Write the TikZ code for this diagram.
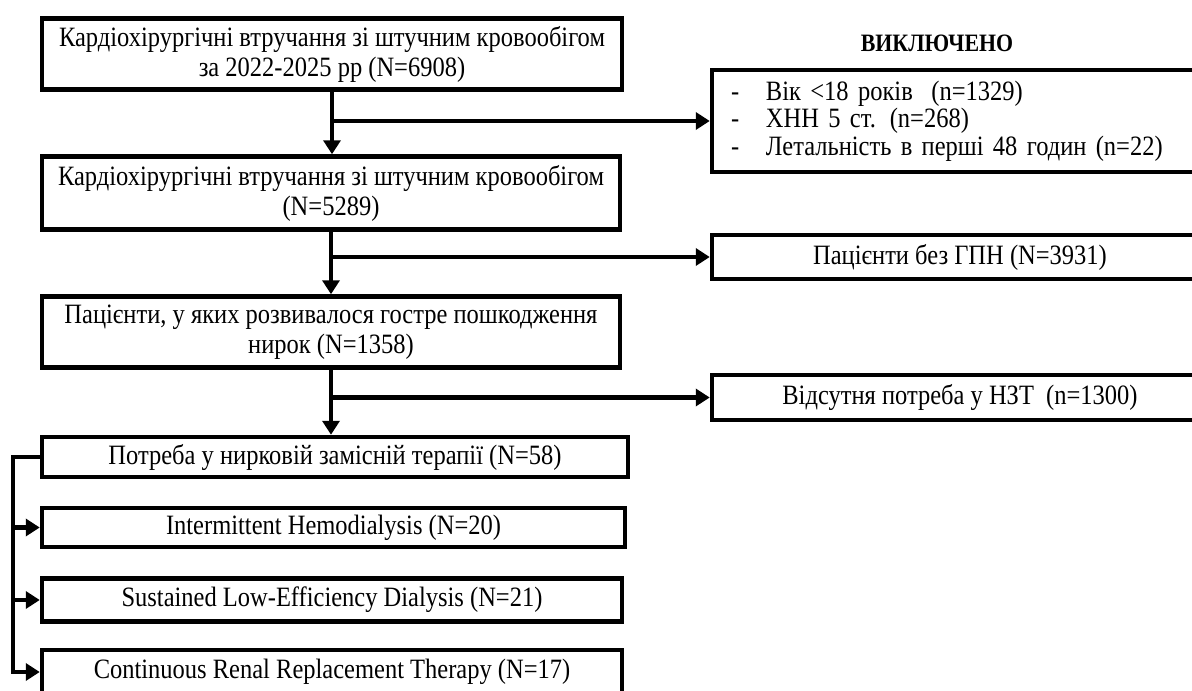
\documentclass[tikz,border=0pt]{standalone}
\usepackage{fontspec}
\setmainfont[FakeStretch=0.875]{Liberation Serif}
\usetikzlibrary{arrows.meta}

\begin{document}
\begin{tikzpicture}[x=1pt, y=-1pt, line join=miter,
  flowbox/.style={draw, line width=4.5pt, align=center, inner sep=0pt,
    font=\fontsize{28}{30}\selectfont},
  link/.style={line width=4.5pt, -{Triangle[length=14pt, width=17pt]}},
  lead/.style={line width=4.5pt}]

  \clip (0,0) rectangle (1192,691);

  % ── Main column ──────────────────────────────────────────────────────────────

  \node[flowbox, minimum width=580pt, minimum height=71pt] (total) at (332,54)
    {Кардіохірургічні втручання зі штучним кровообігом\\за 2022-2025 рр (N=6908)};
  \node[flowbox, minimum width=578pt, minimum height=73pt] (cohort) at (331,193)
    {Кардіохірургічні втручання зі штучним кровообігом\\(N=5289)};
  \node[flowbox, minimum width=578pt, minimum height=71pt] (aki) at (331,332)
    {Пацієнти, у яких розвивалося гостре пошкодження\\нирок (N=1358)};
  \node[flowbox, minimum width=586pt, minimum height=40pt] (krt) at (335,457)
    {Потреба у нирковій замісній терапії (N=58)};

  % ── Dialysis modes ───────────────────────────────────────────────────────────

  \node[flowbox, minimum width=583pt, minimum height=39pt] (ihd) at (333.5,527.5)
    {Intermittent Hemodialysis (N=20)};
  \node[flowbox, minimum width=580pt, minimum height=43pt] (sled) at (332,600)
    {Sustained Low-Efficiency Dialysis (N=21)};
  \node[flowbox, minimum width=580pt, minimum height=44pt] (crrt) at (332,672)
    {Continuous Renal Replacement Therapy (N=17)};

  % ── Side column ──────────────────────────────────────────────────────────────

  \node[font=\fontsize{25}{28}\selectfont\bfseries] (title) at (937,43) {ВИКЛЮЧЕНО};
  \node[flowbox, minimum width=496pt, minimum height=102pt, align=left,
        text width=458pt, font=\fontsize{28}{27.5}\selectfont] (excl) at (960,121)
    {\makebox[35pt][l]{-}Вік <18 років\ \ (n=1329)\\
     \makebox[35pt][l]{-}ХНН 5 ст. (n=268)\\
     \makebox[35pt][l]{-}Летальність в перші 48 годин (n=22)};
  \node[flowbox, minimum width=496pt, minimum height=44pt] (noaki) at (960,257)
    {Пацієнти без ГПН (N=3931)};
  \node[flowbox, minimum width=496pt, minimum height=45pt] (nokrt) at (960,397.5)
    {Відсутня потреба у НЗТ\ \ (n=1300)};

  % ── Arrows ───────────────────────────────────────────────────────────────────

  \draw[link] (total.south)  -- (total.south |- cohort.north);
  \draw[link] (total.south |- excl.west) -- (excl.west);
  \draw[link] (cohort.south) -- (cohort.south |- aki.north);
  \draw[link] (cohort.south |- noaki.west) -- (noaki.west);
  \draw[link] (aki.south)    -- (aki.south |- krt.north);
  \draw[link] (aki.south |- nokrt.west) -- (nokrt.west);

  % Left bus
  \coordinate (bus) at (13,457);
  \draw[link] (krt.west) -- (bus) |- (crrt.west);
  \draw[link] (bus |- ihd.west)  -- (ihd.west);
  \draw[link] (bus |- sled.west) -- (sled.west);

\end{tikzpicture}
\end{document}
